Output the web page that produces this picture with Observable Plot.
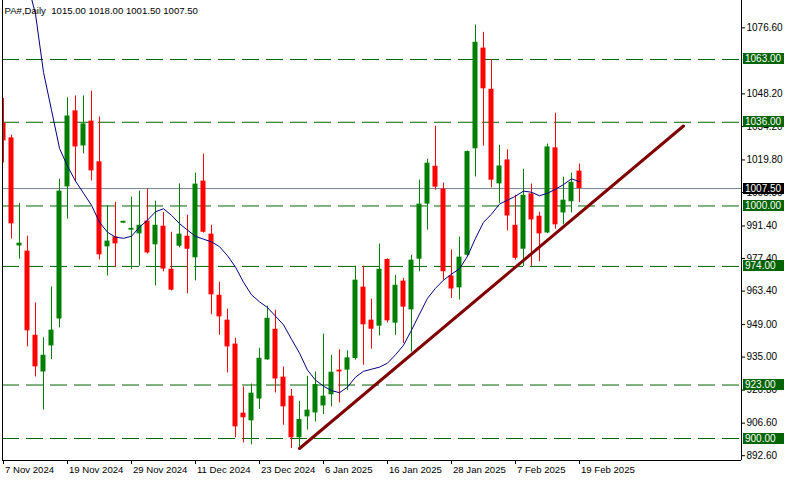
<!DOCTYPE html>
<html><head><meta charset="utf-8">
<script src="https://cdn.jsdelivr.net/npm/d3@7"></script>
<script src="https://cdn.jsdelivr.net/npm/@observablehq/plot@0.6"></script>
<style>html,body{margin:0;padding:0;background:#fff}#chart svg{display:block}</style>
</head><body><div id="chart"></div>
<script>
// Daily bars, PA# (palladium), 7 Nov 2024 .. 19 Feb 2025 (bar index 0..72)
const open = [1035.5,1029.3,982.8,980.6,944.4,928.6,939.8,951.4,1008.2,1040.9,1025.8,1036.5,1019.0,982.4,986.7,992.6,989.6,988.0,993.5,983.3,991.3,972.8,982.7,987.0,977.7,1010.7,987.9,961.6,950.9,940.6,910.9,907.6,917.0,933.8,947.0,926.4,918.2,900.3,909.3,911.0,914.0,918.8,929.4,929.4,934.4,965.1,950.9,948.3,977.0,949.6,967.7,955.3,977.1,1000.8,1017.1,1007.3,969.9,964.8,978.8,1024.6,1067.9,1050.2,1009.5,1019.8,991.7,981.4,1005.2,995.6,988.4,1025.0,997.0,1001.8,1015.0];
const high = [1046.2,1030.4,1001.1,987.0,958.3,943.3,965.2,1011.5,1046.5,1047.3,1047.3,1049.4,1038.3,1000.2,1001.6,993.4,1003.8,1006.4,1007.2,1002.1,997.2,988.7,1009.5,996.0,1014.1,1022.3,991.7,967.2,955.6,943.1,922.2,923.4,938.8,956.9,955.2,930.7,921.1,916.0,926.7,928.6,944.9,935.8,938.1,937.7,974.1,974.1,959.9,983.6,977.2,970.2,968.9,978.8,1011.1,1020.1,1034.3,1009.8,981.1,986.6,1023.6,1077.8,1074.7,1063.0,1026.1,1024.1,1004.6,1015.8,1009.4,997.3,1026.6,1039.9,1012.4,1014.1,1018.0];
const low = [1018.5,985.8,977.2,939.4,926.5,912.2,934.0,947.6,994.4,1010.5,1022.4,1010.8,976.8,969.9,973.5,992.6,972.7,974.1,979.3,965.6,971.7,963.5,982.0,962.2,967.8,988.3,953.2,944.4,928.2,900.3,898.1,897.3,912.5,933.7,919.6,905.7,895.7,896.3,903.6,907.1,910.3,913.6,915.3,920.6,933.7,931.5,938.4,944.1,949.7,944.4,940.9,937.2,971.7,989.6,1006.8,968.1,960.2,959.5,978.1,1012.5,1025.7,1007.8,1001.1,989.3,976.7,974.0,974.0,976.0,988.1,990.0,991.9,997.0,1001.5];
const close = [1028.0,992.3,984.0,946.3,930.8,935.8,946.6,1006.4,1038.7,1025.4,1035.3,1015.1,979.0,984.9,983.7,993.4,990.4,991.7,979.8,991.7,972.9,963.8,987.9,981.4,1009.4,988.7,961.8,952.3,939.4,905.0,908.9,919.5,934.5,951.7,925.6,913.6,900.3,908.2,912.2,923.2,918.2,928.5,928.6,934.7,968.1,948.9,947.0,972.8,950.6,965.9,956.5,976.7,1000.8,1018.4,1008.1,971.7,964.3,978.0,1023.4,1070.4,1050.4,1011.1,1017.2,995.7,977.5,1004.6,994.0,988.0,1025.4,991.9,1002.5,1010.2,1007.5];
// moving average (navy line)
const ma = [null,null,null,1096,1082.5,1057.5,1041.2,1024.8,1017.1,1010.7,1005.5,1000.3,993.0,988.7,986.6,986.1,987.0,990.9,993.9,997.5,998.8,996.0,992.4,989.6,987.0,985.7,984.6,982.5,978.6,973.7,967.2,961.8,958.8,956.3,952.6,948.9,942.7,936.7,929.4,925.1,922.5,920.6,919.7,922.1,926.4,928.9,929.8,930.7,932.4,936.0,940.1,946.6,953.5,960.3,964.6,968.1,970.7,973.0,978.4,986.1,993.0,996.5,1000.8,1002.5,1004.2,1006.4,1005.9,1004.4,1005.5,1007.2,1009.2,1011.7,1010.4];
// horizontal levels and current price
const levels = [1063, 1036, 1000, 974, 923, 900];
const lastPrice = 1007.5;
// trend line (bar index, price)
const trendX = [37, 85];
const trendY = [895.7, 1034.4];
// axis ticks
const xTickIdx = [0, 8, 16, 24, 32, 40, 48, 56, 64, 72];
const xTickLabels = ["7 Nov 2024","19 Nov 2024","29 Nov 2024","11 Dec 2024","23 Dec 2024","6 Jan 2025","16 Jan 2025","28 Jan 2025","7 Feb 2025","19 Feb 2025"];
const yTicks = [1076.6, 1048.2, 1034.2, 1019.8, 1005.8, 991.4, 977.4, 963.4, 949.0, 935.0, 920.8, 906.6, 892.6];
const xDomain = [-0.125, 92.25];
const yDomain = [890.54, 1088.37];

const GREEN = "#008000", RED = "#ff0000", LEVEL = "#006400";
const idx = d3.range(open.length);
const up = idx.filter(i => close[i] >= open[i]);
const down = idx.filter(i => close[i] < open[i]);
const maData = idx.filter(i => ma[i] != null).map(i => ({i, v: ma[i]}));
const trend = trendX.map((x, j) => ({x, y: trendY[j]}));
const title = `PA#,Daily\u00a0 ${open[72].toFixed(2)} ${high[72].toFixed(2)} ${low[72].toFixed(2)} ${close[72].toFixed(2)}`;

function priceBoxes(vals, fill) {
  return (index, scales, values, dims) => {
    const g = d3.create("svg:g");
    const x0 = dims.width - dims.marginRight + 2;
    for (const v of vals) {
      const y = scales.y(v);
      g.append("rect").attr("x", x0).attr("y", Math.floor(y) - 5).attr("width", 41).attr("height", 11).attr("fill", fill);
      g.append("text").attr("x", x0 + 2).attr("y", Math.floor(y) + 0.5).attr("dy", "0.35em")
        .attr("text-anchor", "start").attr("fill", "white").attr("font-size", 10).text(v.toFixed(2));
    }
    return g.node();
  };
}

const candleMarks = (set, color) => [
  Plot.ruleX(set, {x: i => i, y1: i => low[i], y2: i => high[i], stroke: color, strokeWidth: 1, clip: true}),
  Plot.rect(set, {x1: i => i - 0.3125, x2: i => i + 0.3125, y1: i => open[i], y2: i => close[i], fill: color, clip: true})
];

const chart = Plot.plot({
  width: 787, height: 480,
  marginTop: 0, marginBottom: 20, marginLeft: 2, marginRight: 46,
  style: {background: "white", color: "black", fontFamily: "'Liberation Sans', Arial, sans-serif", fontSize: "10px", overflow: "visible"},
  x: {type: "linear", domain: xDomain, axis: "bottom", ticks: xTickIdx, tickFormat: () => "", tickSize: 4, label: null},
  y: {type: "linear", domain: yDomain, axis: "right", ticks: yTicks, tickFormat: d => d.toFixed(2), tickSize: 3, tickPadding: 2, label: null},
  marks: [
    Plot.ruleY(levels, {y: d => d, stroke: LEVEL, strokeWidth: 1, strokeDasharray: "17,7"}),
    Plot.ruleY([lastPrice], {y: d => d, stroke: "#778899", strokeWidth: 1}),
    ...candleMarks(up, GREEN),
    ...candleMarks(down, RED),
    Plot.line(maData, {x: "i", y: "v", stroke: "#000080", strokeWidth: 1, clip: true}),
    Plot.line(trend, {x: "x", y: "y", stroke: "#800000", strokeWidth: 3, clip: true}),
    Plot.ruleX([xDomain[0], xDomain[1]], {x: d => d, stroke: "black", strokeWidth: 1}),
    Plot.ruleY([yDomain[0]], {y: d => d, stroke: "black", strokeWidth: 1}),
    Plot.text(xTickIdx, {x: d => d, text: (d, j) => xTickLabels[j], frameAnchor: "bottom", dy: 9, dx: 1.5, textAnchor: "start", lineAnchor: "middle", fill: "black", fontSize: 9.6}),
    Plot.text([title], {text: d => d, frameAnchor: "top-left", dx: 2, dy: 10, textAnchor: "start", lineAnchor: "middle", fill: "black", fontSize: 9.6}),
    priceBoxes(levels, LEVEL),
    priceBoxes([lastPrice], "black")
  ]
});
document.getElementById("chart").appendChild(chart);
</script>
</body></html>
